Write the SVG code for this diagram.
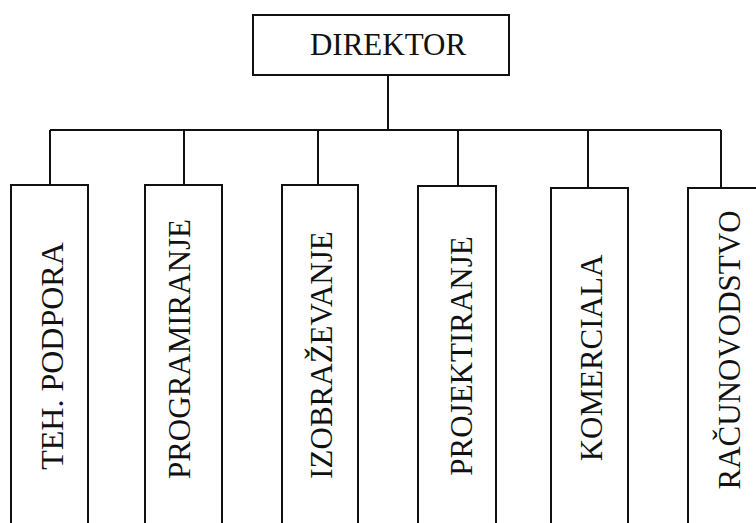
<svg xmlns="http://www.w3.org/2000/svg" width="756" height="523" viewBox="0 0 756 523">
<style>
.b{fill:#fff;stroke:#111;stroke-width:2}
.c{fill:none;stroke:#111;stroke-width:2}
.t{font-family:"Liberation Serif","Times New Roman",serif;font-size:31px;fill:#111;text-anchor:middle}
</style>
<rect width="756" height="523" fill="#fff"/>
<g id="connectors">
<path class="c" d="M388 75V130M50 130H721M50 130V185M184 130V185M318 130V185M458 130V186M588 130V188M721 130V188"/>
</g>
<g id="direktor">
<rect class="b" x="253" y="15" width="256" height="60"/>
<text class="t" x="388" y="55">DIREKTOR</text>
</g>
<g id="teh-podpora">
<rect class="b" x="11" y="185" width="77" height="345"/>
<text class="t" transform="translate(63,356) rotate(-90)" style="font-size:32px">TEH. PODPORA</text>
</g>
<g id="programiranje">
<rect class="b" x="145" y="185" width="77" height="345"/>
<text class="t" transform="translate(190,349) rotate(-90)">PROGRAMIRANJE</text>
</g>
<g id="izobrazevanje">
<rect class="b" x="282" y="185" width="76" height="345"/>
<text class="t" transform="translate(332,355) rotate(-90)">IZOBRAŽEVANJE</text>
</g>
<g id="projektiranje">
<rect class="b" x="418" y="186" width="78" height="345"/>
<text class="t" transform="translate(472,356) rotate(-90)">PROJEKTIRANJE</text>
</g>
<g id="komerciala">
<rect class="b" x="551" y="188" width="77" height="345"/>
<text class="t" transform="translate(602,358) rotate(-90)">KOMERCIALA</text>
</g>
<g id="racunovodstvo">
<rect class="b" x="688" y="188" width="77" height="345"/>
<text class="t" transform="translate(740,350) rotate(-90)">RAČUNOVODSTVO</text>
</g>
</svg>
